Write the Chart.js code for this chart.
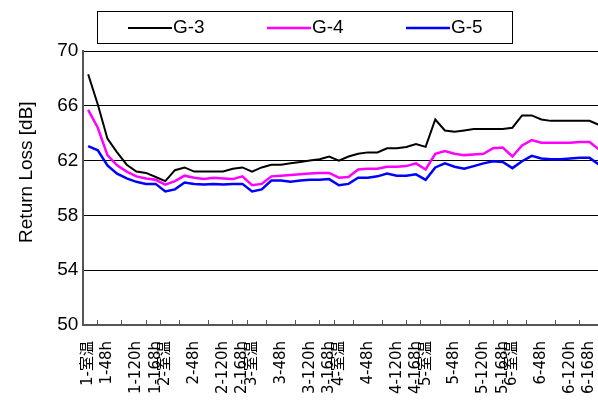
<!DOCTYPE html>
<html lang="ja">
<head>
<meta charset="UTF-8">
<title>Return Loss</title>
<script src="https://cdn.jsdelivr.net/npm/chart.js"></script>
<style>
  html, body { margin: 0; padding: 0; background: #fff; overflow: hidden; }
</style>
</head>
<body>
<canvas id="myChart" width="604" height="410"></canvas>
<script>
// categories (only some of them carry a label)
var categories = [
  '1-室温', '', '1-48h', '', '', '1-120h', '', '1-168h',
  '2-室温', '', '', '2-48h', '', '', '2-120h', '', '2-168h',
  '3-室温', '', '', '3-48h', '', '', '3-120h', '', '3-168h',
  '4-室温', '', '', '4-48h', '', '', '4-120h', '', '4-168h',
  '5-室温', '', '', '5-48h', '', '', '5-120h', '', '5-168h',
  '6-室温', '', '', '6-48h', '', '', '6-120h', '', '6-168h', ''
];

var g3 = [68.3, 66.1, 63.6, 62.6, 61.7, 61.2, 61.1, 60.8, 60.5, 61.3,
          61.5, 61.2, 61.2, 61.2, 61.2, 61.4, 61.5, 61.2, 61.5, 61.7,
          61.7, 61.8, 61.9, 62.0, 62.1, 62.3, 62.0, 62.3, 62.5, 62.6,
          62.6, 62.9, 62.9, 63.0, 63.2, 63.0, 65.0, 64.2, 64.1, 64.2,
          64.3, 64.3, 64.3, 64.3, 64.4, 65.3, 65.3, 65.0, 64.9, 64.9,
          64.9, 64.9, 64.9, 64.6];

var g4 = [65.7, 64.4, 62.4, 61.65, 61.2, 60.85, 60.7, 60.6, 60.25, 60.5,
          60.9, 60.75, 60.65, 60.75, 60.7, 60.65, 60.85, 60.2, 60.3, 60.85,
          60.9, 60.95, 61.0, 61.05, 61.1, 61.1, 60.75, 60.8, 61.35, 61.4,
          61.4, 61.55, 61.55, 61.6, 61.8, 61.35, 62.5, 62.7, 62.5, 62.4,
          62.45, 62.5, 62.9, 62.95, 62.3, 63.1, 63.5, 63.3, 63.3, 63.3,
          63.3, 63.35, 63.35, 62.8];

var g5 = [63.05, 62.75, 61.65, 61.05, 60.7, 60.45, 60.3, 60.3, 59.75, 59.9,
          60.4, 60.3, 60.25, 60.3, 60.25, 60.3, 60.3, 59.75, 59.9, 60.55,
          60.55, 60.45, 60.55, 60.6, 60.6, 60.65, 60.2, 60.3, 60.75, 60.75,
          60.85, 61.05, 60.9, 60.9, 61.0, 60.6, 61.5, 61.8, 61.55, 61.4,
          61.6, 61.8, 61.95, 61.9, 61.45, 61.95, 62.35, 62.15, 62.1, 62.1,
          62.15, 62.2, 62.2, 61.7];

var yMin = 50;
var yMax = 70;
var yStep = 4;

var fontFamily = '"Liberation Sans", Arial, "Noto Sans CJK JP", sans-serif';
Chart.defaults.font.family = fontFamily;
Chart.defaults.font.size = 19;
Chart.defaults.color = '#000';

// legend drawn as a framed box above the plot
var legendBox = {
  id: 'legendBox',
  afterDraw: function (chart) {
    var ctx = chart.ctx;
    ctx.save();
    ctx.strokeStyle = '#000';
    ctx.lineWidth = 1;
    ctx.strokeRect(97.5, 11.5, 415, 32);
    ctx.font = '19px ' + fontFamily;
    ctx.textBaseline = 'middle';
    chart.data.datasets.forEach(function (ds, i) {
      var x = 128 + i * 139;
      ctx.strokeStyle = ds.borderColor;
      ctx.lineWidth = ds.borderWidth;
      ctx.beginPath();
      ctx.moveTo(x, 28);
      ctx.lineTo(x + 44, 28);
      ctx.stroke();
      ctx.fillStyle = '#000';
      ctx.fillText(ds.label, x + 45, 28);
    });
    ctx.restore();
  }
};

var dados = {
  labels: categories,
  datasets: [
    { label: 'G-3', data: g3, borderColor: '#000000', borderWidth: 2 },
    { label: 'G-4', data: g4, borderColor: '#FF00FF', borderWidth: 2.5 },
    { label: 'G-5', data: g5, borderColor: '#0000FF', borderWidth: 2.5 }
  ]
};

var config = {
  type: 'line',
  data: dados,
  plugins: [legendBox],
  options: {
    responsive: false,
    animation: false,
    layout: { padding: { top: 51, right: 0, bottom: 10, left: 0 } },
    elements: { point: { radius: 0 }, line: { tension: 0, fill: false } },
    plugins: { legend: { display: false }, tooltip: { enabled: false } },
    scales: {
      x: {
        offset: true,
        grid: { offset: true, drawOnChartArea: false, drawTicks: true, tickLength: -5, color: '#555' },
        border: { color: '#555', width: 2 },
        ticks: {
          autoSkip: false, maxRotation: 90, minRotation: 90, padding: 21,
          font: { family: '"DejaVu Sans", "Noto Sans CJK JP", sans-serif', size: 15 },
          callback: function (v, i) { return categories[i] || null; }
        },
        afterFit: function (scale) {
          // no side padding, fixed height below the plot
          scale.paddingLeft = 0;
          scale.paddingRight = 0;
          scale.height = 75;
        }
      },
      y: {
        min: yMin,
        max: yMax,
        ticks: { stepSize: yStep, padding: 5 },
        grid: { color: '#000', lineWidth: 1, drawTicks: false },
        border: { color: '#555', width: 2 },
        title: { display: true, text: '      Return Loss [dB]', padding: { top: 15.6, bottom: 13.8 } }
      }
    }
  }
};

var myChart = new Chart(document.getElementById('myChart'), config);
</script>
</body>
</html>
